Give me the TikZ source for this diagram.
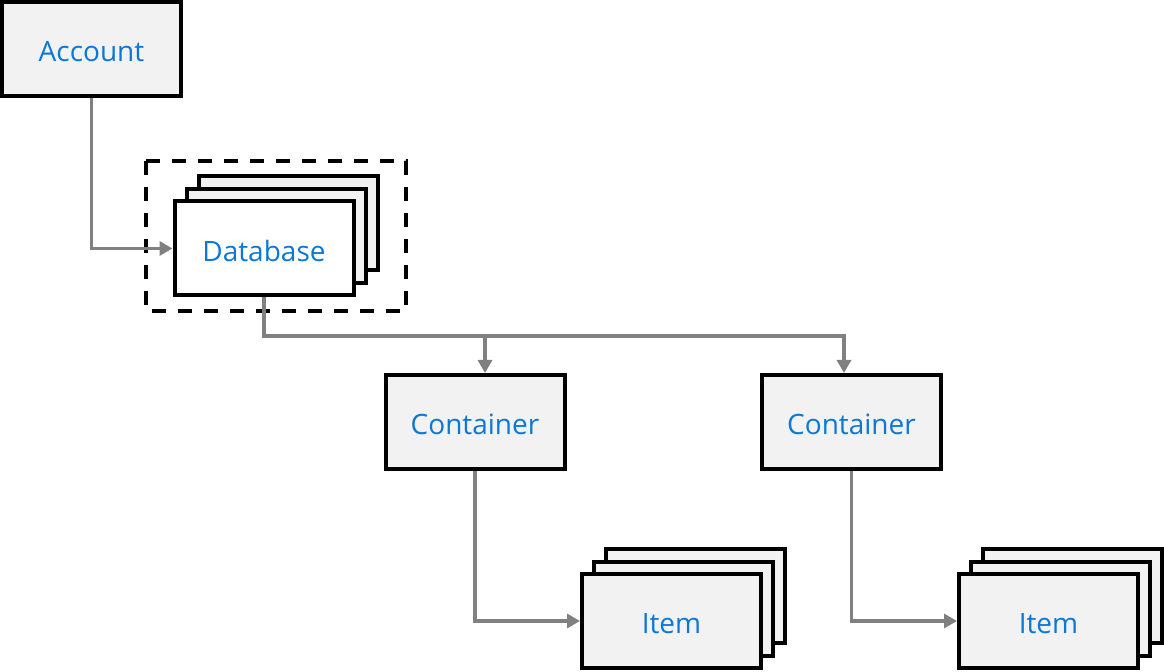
\documentclass[tikz,border=0pt]{standalone}
\usepackage{fontspec}
\setmainfont{Open Sans}
\usetikzlibrary{arrows.meta}
\definecolor{boxgray}{HTML}{F2F2F2}
\definecolor{linkgray}{HTML}{808080}
\definecolor{labelblue}{HTML}{0A78D7}

\begin{document}
\begin{tikzpicture}[x=0.5pt,y=-0.5pt,
    card/.style={draw=black,line width=2pt,fill=boxgray,minimum width=89.5pt,minimum height=47pt,
      inner sep=0pt,text height=13pt,text depth=0pt,text=labelblue,font=\fontsize{14}{17}\selectfont},
    link/.style={draw=linkgray,line width=1.75pt,-{Triangle[length=6.5pt,width=7pt]}}]
        \useasboundingbox (0,0) rectangle (1164,672);

        \node[card] (account) at (91.5,49) {Account};

        \draw[line width=2pt,dash pattern=on 7pt off 6pt] (146,161) rectangle (406,311);% Database scope
        \node[card] (db3) at (288,223.5) {};
        \node[card] (db2) at (276,236) {};
        \node[card,fill=white] (db) at (264,248.5) {Database};

        \node[card] (contA) at (475,422) {Container};
        \node[card] (contB) at (851.5,422) {Container};

        \node[card] (itemA3) at (695.5,596.5) {};
        \node[card] (itemA2) at (683.5,609) {};
        \node[card] (itemA) at (671.5,621) {Item};

        \node[card] (itemB3) at (1072.5,596.5) {};
        \node[card] (itemB2) at (1060.5,609) {};
        \node[card] (itemB) at (1048.5,621) {Item};

        \coordinate (bus) at (264,336);

        \draw[link] (account.south) |- (db.west);
        \draw[link] (db.south) -- (bus) -| ([xshift=5pt]contA.north);
        \draw[link] (bus) -| ([xshift=-3.75pt]contB.north);
        \draw[link] (contA.south) |- (itemA.west);
        \draw[link] (contB.south) |- (itemB.west);
    \end{tikzpicture}
\end{document}
